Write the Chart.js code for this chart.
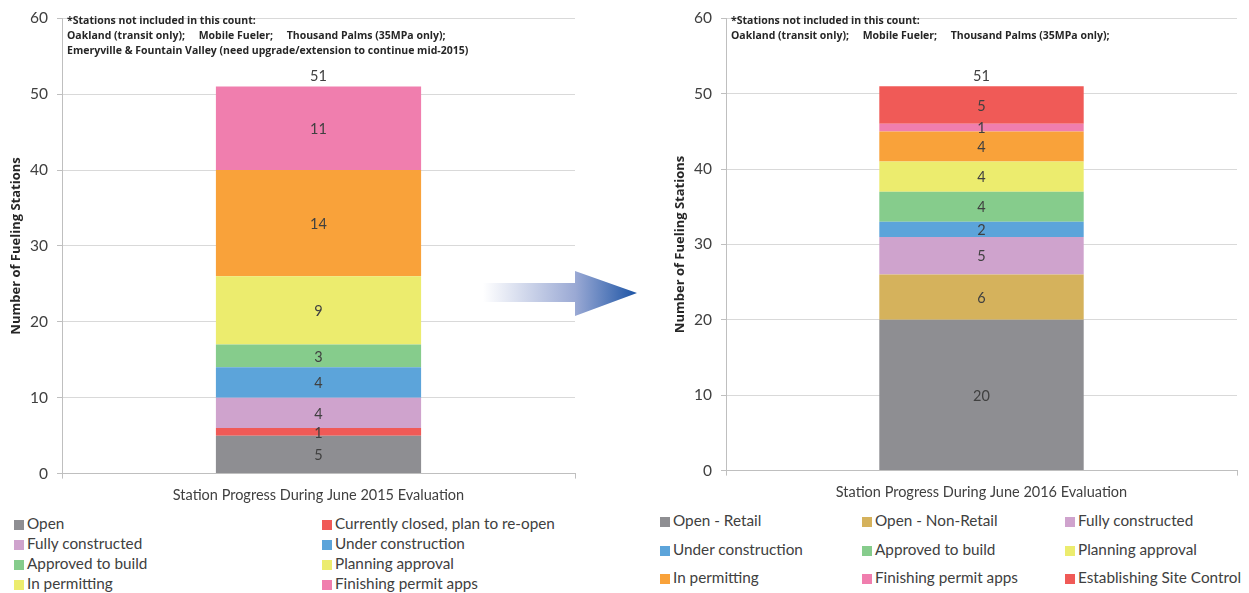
<!DOCTYPE html>
<html lang="en">
  <head>
    <meta charset="UTF-8" />
    <title>Fueling Station Progress</title>
    <script src="https://cdn.jsdelivr.net/npm/chart.js"></script>
    <style>
      body {
        margin: 0;
        background: #fff;
        font-family: "Lato", sans-serif;
        color: #404040;
        width: 1249px;
        height: 593px;
        position: relative;
        overflow: hidden;
      }
      .chart-box {
        position: absolute;
        top: 0;
      }
      .legend {
        position: absolute;
        font-size: 15.3px;
        color: #404040;
      }
      .legend-item {
        position: absolute;
        white-space: nowrap;
        line-height: 16px;
      }
      .legend-item span {
        display: inline-block;
        width: 10px;
        height: 10px;
        margin-right: 3px;
        vertical-align: -1px;
      }
      #arrow {
        position: absolute;
        left: 470px;
        top: 260px;
      }
    </style>
  </head>
  <body>
    <div class="chart-box" style="left: 0; width: 600px; height: 512px">
      <canvas id="chart2015"></canvas>
    </div>
    <div class="chart-box" style="left: 664px; width: 585px; height: 509px">
      <canvas id="chart2016"></canvas>
    </div>

    <svg id="arrow" width="180" height="70">
      <defs>
        <linearGradient id="arrowFill" x1="13" y1="0" x2="167" y2="0" gradientUnits="userSpaceOnUse">
          <stop offset="0" stop-color="#ffffff" />
          <stop offset="0.6" stop-color="#9aa9d4" />
          <stop offset="1" stop-color="#1c54a5" />
        </linearGradient>
      </defs>
      <polygon points="13,23 105,23 105,11 167,33 105,56 105,42 13,42" fill="url(#arrowFill)" />
    </svg>

    <div class="legend" id="legend2015"></div>
    <div class="legend" id="legend2016"></div>

    <script>
      // June 2015 evaluation, stacked bottom to top
      const labels2015 = [
        "Open",
        "Currently closed, plan to re-open",
        "Fully constructed",
        "Under construction",
        "Approved to build",
        "Planning approval",
        "In permitting",
        "Finishing permit apps",
      ];
      const values2015 = [5, 1, 4, 4, 3, 9, 14, 11];
      const colors2015 = ["#8e8e92", "#f05a57", "#cfa3cd", "#5ca4da", "#86cc8c", "#ecec6e", "#f9a23a", "#f07eae"];
      // the legend swatch for "In permitting" is yellow, not orange
      const swatches2015 = ["#8e8e92", "#f05a57", "#cfa3cd", "#5ca4da", "#86cc8c", "#ecec6e", "#ecec6e", "#f07eae"];
      const notes2015 = [
        "*Stations not included in this count:",
        "Oakland (transit only);     Mobile Fueler;     Thousand Palms (35MPa only);",
        "Emeryville & Fountain Valley (need upgrade/extension to continue mid-2015)",
      ];

      // June 2016 evaluation, stacked bottom to top
      const labels2016 = [
        "Open - Retail",
        "Open - Non-Retail",
        "Fully constructed",
        "Under construction",
        "Approved to build",
        "Planning approval",
        "In permitting",
        "Finishing permit apps",
        "Establishing Site Control",
      ];
      const values2016 = [20, 6, 5, 2, 4, 4, 4, 1, 5];
      const colors2016 = ["#8e8e92", "#d5b25c", "#cfa3cd", "#5ca4da", "#86cc8c", "#ecec6e", "#f9a23a", "#f07eae", "#f05a57"];
      const notes2016 = [
        "*Stations not included in this count:",
        "Oakland (transit only);     Mobile Fueler;     Thousand Palms (35MPa only);",
      ];

      const yTicks = [0, 10, 20, 30, 40, 50, 60];

      // writes each segment's value in its middle and the stack total on top
      const valueLabels = {
        id: "valueLabels",
        afterDatasetsDraw(chart) {
          const ctx = chart.ctx;
          ctx.save();
          ctx.font = "14.5px Lato";
          ctx.fillStyle = "#404040";
          ctx.textAlign = "center";
          ctx.textBaseline = "middle";
          let total = 0;
          let topY = chart.chartArea.bottom;
          let cx = 0;
          chart.data.datasets.forEach((ds, i) => {
            const bar = chart.getDatasetMeta(i).data[0];
            ctx.fillText(String(ds.data[0]), bar.x, (bar.y + bar.base) / 2 + 1);
            total += ds.data[0];
            topY = Math.min(topY, bar.y);
            cx = bar.x;
          });
          ctx.fillText(String(total), cx, topY - 10);
          ctx.restore();
        },
      };

      // footnote block in the upper left corner of the plot
      const noteBlock = {
        id: "noteBlock",
        afterDraw(chart, args, opts) {
          const ctx = chart.ctx;
          ctx.save();
          ctx.font = "bold 10.5px 'Open Sans'";
          ctx.fillStyle = "#262626";
          ctx.textBaseline = "middle";
          opts.lines.forEach((line, i) => {
            ctx.fillText(line, chart.chartArea.left + 5, 21 + i * 15);
          });
          ctx.restore();
        },
      };

      function makeChart(id, title, labels, values, colors, notes, barPct, padRight) {
        return new Chart(document.getElementById(id), {
          type: "bar",
          data: {
            labels: [title],
            datasets: labels.map((name, i) => ({
              label: name,
              data: [values[i]],
              backgroundColor: colors[i],
              borderWidth: 0,
              categoryPercentage: 1,
              barPercentage: barPct,
            })),
          },
          options: {
            responsive: true,
            maintainAspectRatio: false,
            animation: false,
            layout: { padding: { top: 2, right: padRight, bottom: 0, left: 0 } },
            plugins: {
              legend: { display: false },
              tooltip: { enabled: false },
              noteBlock: { lines: notes },
            },
            scales: {
              x: {
                stacked: true,
                grid: {
                  offset: true,
                  drawOnChartArea: false,
                  color: "#bfbfbf",
                  tickLength: 5,
                },
                border: { color: "#bfbfbf" },
                ticks: {
                  color: "#404040",
                  font: { family: "Lato", size: 14.5 },
                  padding: 8,
                },
              },
              y: {
                stacked: true,
                min: 0,
                max: 60,
                afterBuildTicks: (axis) => {
                  axis.ticks = yTicks.map((v) => ({ value: v }));
                },
                afterFit: (axis) => {
                  axis.width = 62;
                },
                grid: { color: "#d9d9d9", tickColor: "#bfbfbf", tickLength: 5 },
                border: { color: "#bfbfbf" },
                ticks: {
                  color: "#404040",
                  font: { family: "Lato", size: 15.5 },
                  padding: 9,
                },
                title: {
                  display: true,
                  text: "Number of Fueling Stations",
                  color: "#262626",
                  font: { family: "Open Sans", size: 13, weight: "bold" },
                  padding: { top: 8, bottom: 0 },
                },
              },
            },
          },
          plugins: [valueLabels, noteBlock],
        });
      }

      makeChart(
        "chart2015",
        "Station Progress During June 2015 Evaluation",
        labels2015,
        values2015,
        colors2015,
        notes2015,
        0.4,
        25
      );
      makeChart(
        "chart2016",
        "Station Progress During June 2016 Evaluation",
        labels2016,
        values2016,
        colors2016,
        notes2016,
        0.4,
        12
      );

      // HTML legends laid out in a grid, row by row
      function buildLegend(id, labels, swatches, colXs, rowYs) {
        const box = document.getElementById(id);
        const cols = colXs.length;
        labels.forEach((name, i) => {
          const item = document.createElement("div");
          item.className = "legend-item";
          item.style.left = colXs[i % cols] + "px";
          item.style.top = rowYs[Math.floor(i / cols)] - 8 + "px";
          item.innerHTML = `<span style="background:${swatches[i]}"></span>${name}`;
          box.appendChild(item);
        });
      }

      buildLegend("legend2015", labels2015, swatches2015, [14, 322], [523, 543, 563, 583]);
      buildLegend("legend2016", labels2016, colors2016, [660, 862, 1065], [520, 549, 577]);
    </script>
  </body>
</html>
